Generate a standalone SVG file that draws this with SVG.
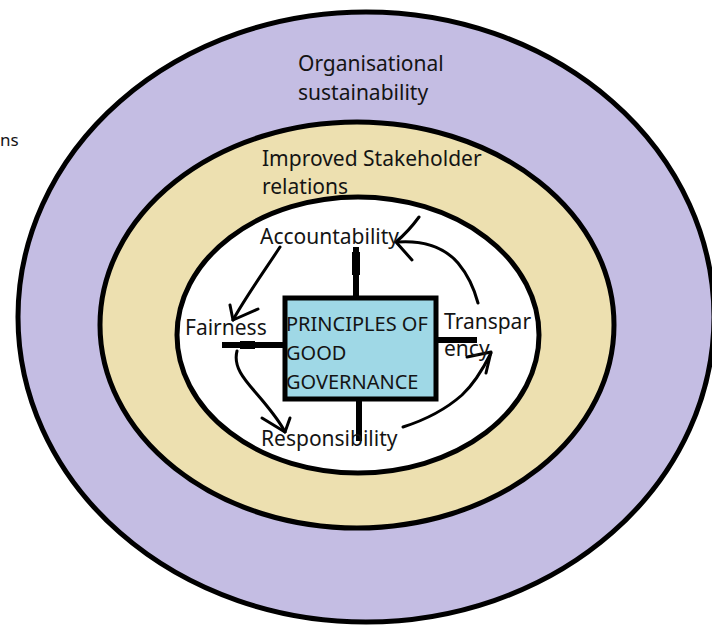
<svg xmlns="http://www.w3.org/2000/svg" width="712" height="629" viewBox="0 0 712 629">
  <style>
    .ring { stroke: #000; stroke-width: 5; }
    .lbl { font-family: "Noto Sans", "Open Sans", sans-serif; font-size: 21px; fill: #141414; }
    .box-lbl { font-size: 20px; }
    .spoke { stroke: #000; stroke-width: 6; fill: none; }
    .hand { stroke: #000; stroke-width: 3; fill: none; stroke-linecap: round; stroke-linejoin: round; }
  </style>
  <rect x="0" y="0" width="712" height="629" fill="#ffffff"/>

  <!-- word fragment at the left edge -->
  <text class="lbl" x="0" y="146" style="font-size:17px">ns</text>

  <g id="outer-ring">
    <ellipse class="ring" cx="366" cy="317" rx="348" ry="305" fill="#c4bde3"/>
    <text class="lbl" x="298" y="71">Organisational</text>
    <text class="lbl" x="298" y="100">sustainability</text>
  </g>

  <g id="middle-ring">
    <ellipse class="ring" cx="357" cy="325" rx="257" ry="203" fill="#ede0b0"/>
    <text class="lbl" x="262" y="166">Improved Stakeholder</text>
    <text class="lbl" x="262" y="194">relations</text>
  </g>

  <g id="inner-ring">
    <ellipse class="ring" cx="358" cy="335" rx="181" ry="138" fill="#ffffff"/>
  </g>

  <g id="connectors">
    <!-- spokes from the centre box -->
    <line class="spoke" x1="356" y1="298" x2="356" y2="247"/>
    <line x1="356" y1="252" x2="356" y2="275" stroke="#000" stroke-width="8"/>
    <line class="spoke" x1="285" y1="345" x2="222" y2="345"/>
    <line x1="240" y1="345" x2="255" y2="345" stroke="#000" stroke-width="8"/>
    <line class="spoke" x1="436" y1="340" x2="477" y2="340"/>
    <line class="spoke" x1="359" y1="399" x2="359" y2="441"/>

    <!-- Accountability to Fairness -->
    <path class="hand" d="M280,247 C265,270 245,298 233,320"/>
    <path class="hand" d="M230,305 L233,320 L258,309"/>
    <!-- Fairness to Responsibility -->
    <path class="hand" d="M237,351 C232,370 250,385 262,400 C272,412 280,422 285,432"/>
    <path class="hand" d="M262,418 L285,432 L290,418"/>
    <!-- Responsibility to Transparency -->
    <path class="hand" d="M403,427 C425,420 445,410 462,395 C476,382 485,365 491,353"/>
    <path class="hand" d="M467,357 L491,352 L486,373"/>
    <!-- Transparency to Accountability -->
    <path class="hand" d="M478,303 C474,288 468,275 458,263 C445,248 425,240 397,242"/>
    <path class="hand" d="M419,217 C411,228 403,236 396,242 L412,260"/>
  </g>

  <g id="principles-box">
    <rect x="285" y="298" width="151" height="101" fill="#9fd8e6" stroke="#000" stroke-width="5"/>
    <text class="lbl box-lbl" x="286" y="331">PRINCIPLES OF</text>
    <text class="lbl box-lbl" x="286" y="360">GOOD</text>
    <text class="lbl box-lbl" x="286" y="389">GOVERNANCE</text>
  </g>

  <g id="accountability">
    <text class="lbl" x="260" y="244">Accountability</text>
  </g>
  <g id="fairness">
    <text class="lbl" x="185" y="335">Fairness</text>
  </g>
  <g id="transparency">
    <text class="lbl" x="444" y="329">Transpar</text>
    <text class="lbl" x="444" y="356">ency</text>
  </g>
  <g id="responsibility">
    <text class="lbl" x="261" y="446">Responsibility</text>
  </g>
</svg>
